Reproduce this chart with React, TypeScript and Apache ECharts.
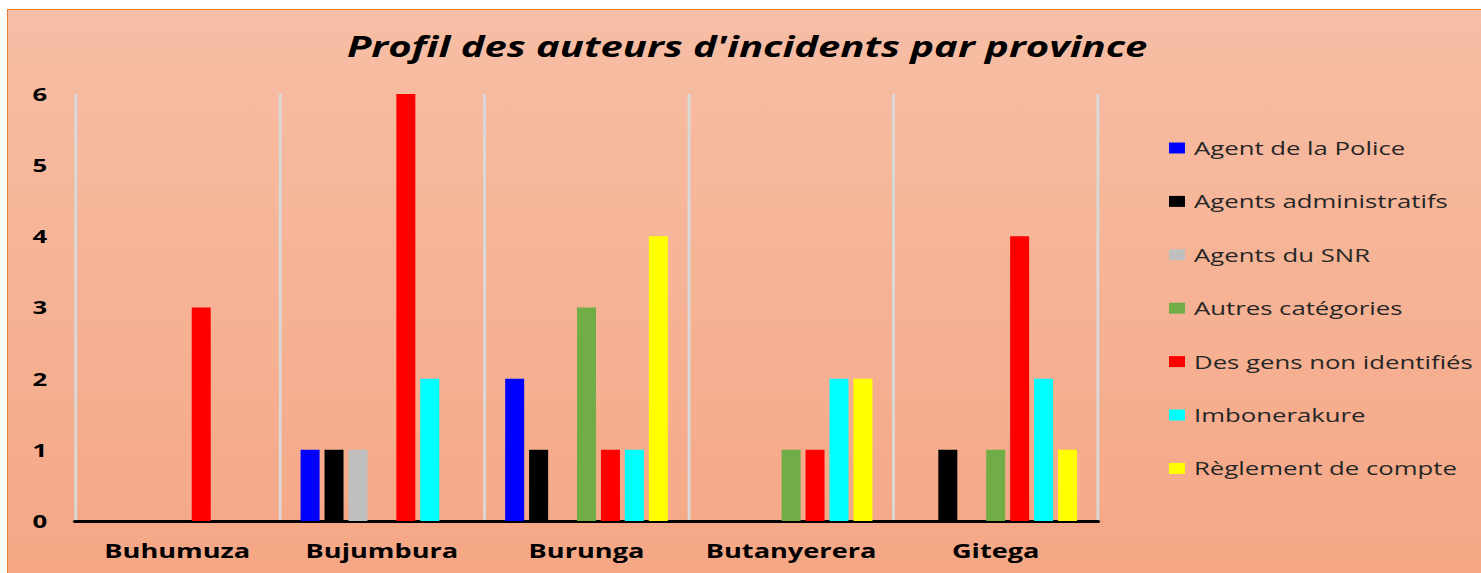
import React, { useEffect, useRef } from "react";
import * as echarts from "echarts";

const provinces = ["Buhumuza", "Bujumbura", "Burunga", "Butanyerera", "Gitega"];
const seriesNames = [
  "Agent de la Police",
  "Agents administratifs",
  "Agents du SNR",
  "Autres catégories",
  "Des gens non identifiés",
  "Imbonerakure",
  "Règlement de compte",
];
const seriesColors = ["#0000FF", "#000000", "#BFBFBF", "#70AD47", "#FF0000", "#00FFFF", "#FFFF00"];
const agentPolice = [0, 1, 2, 0, 0];
const agentsAdmin = [0, 1, 1, 0, 1];
const agentsSNR = [0, 1, 0, 0, 0];
const autresCategories = [0, 0, 3, 1, 1];
const nonIdentifies = [3, 6, 1, 1, 4];
const imbonerakure = [0, 2, 1, 2, 2];
const reglementCompte = [0, 0, 4, 2, 1];
const seriesValues = [agentPolice, agentsAdmin, agentsSNR, autresCategories, nonIdentifies, imbonerakure, reglementCompte];

const FONT = "'Open Sans', sans-serif";
// the reference picture is stretched horizontally; the chart is drawn narrower and widened
const PAGE_W = 1481;
const CHART_W = 1036;
const SX = PAGE_W / CHART_W;
const px = (pageX: number) => pageX / SX;

export default function App() {
  const ref = useRef<HTMLDivElement>(null);
  useEffect(() => {
    if (!ref.current) return;
    const chart = echarts.init(ref.current, null, { renderer: "svg" });
    chart.setOption({
      animation: false,
      backgroundColor: "transparent",
      title: {
        text: "Profil des auteurs d'incidents par province",
        left: px(740),
        top: 27,
        textAlign: "center",
        textStyle: { fontFamily: FONT, fontSize: 28, fontWeight: "bold", fontStyle: "italic", color: "#000" },
      },
      legend: {
        orient: "vertical",
        left: px(1169),
        top: 138,
        padding: 0,
        itemWidth: px(16),
        itemHeight: 11,
        itemGap: 33.4,
        icon: "rect",
        textStyle: { fontFamily: FONT, fontSize: 18, color: "#262626", lineHeight: 20, padding: [0, 0, 0, 1.3] },
        data: seriesNames,
      },
      grid: { left: px(75), top: 94, right: CHART_W - px(1098), bottom: 52, containLabel: false },
      xAxis: {
        type: "category",
        data: provinces,
        axisLine: { show: true, lineStyle: { color: "#000", width: 3 } },
        axisTick: { show: false },
        axisLabel: { interval: 0, fontFamily: FONT, fontSize: 19, fontWeight: "bold", color: "#000", margin: 20 },
        splitLine: { show: true, interval: 0, lineStyle: { color: "#D9D9D9", width: 2 } },
      },
      yAxis: {
        type: "value",
        min: 0,
        max: 6,
        interval: 1,
        axisLine: { show: false },
        axisTick: { show: false },
        splitLine: { show: false },
        axisLabel: { fontFamily: FONT, fontSize: 18, fontWeight: "bold", color: "#000", margin: 19.5 },
      },
      series: seriesNames.map((name, i) => ({
        name,
        type: "bar",
        data: seriesValues[i],
        barWidth: px(19),
        barGap: "26%",
        itemStyle: { color: seriesColors[i] },
      })),
    });
    return () => chart.dispose();
  }, []);
  return (
    <div style={{ position: "absolute", left: 0, top: 0, width: PAGE_W, height: 573, background: "#fff", overflow: "hidden" }}>
      <div
        style={{
          position: "absolute",
          left: 7,
          top: 9,
          width: 1474,
          height: 564,
          borderLeft: "1.5px solid #ED7D31",
          borderTop: "1.5px solid #ED7D31",
          background: "linear-gradient(to bottom, #F7BEA5, #F5A785)",
          boxSizing: "border-box",
        }}
      />
      <div
        ref={ref}
        style={{
          position: "absolute",
          left: 0,
          top: 0,
          width: CHART_W,
          height: 573,
          transform: `scaleX(${SX})`,
          transformOrigin: "0 0",
        }}
      />
    </div>
  );
}
